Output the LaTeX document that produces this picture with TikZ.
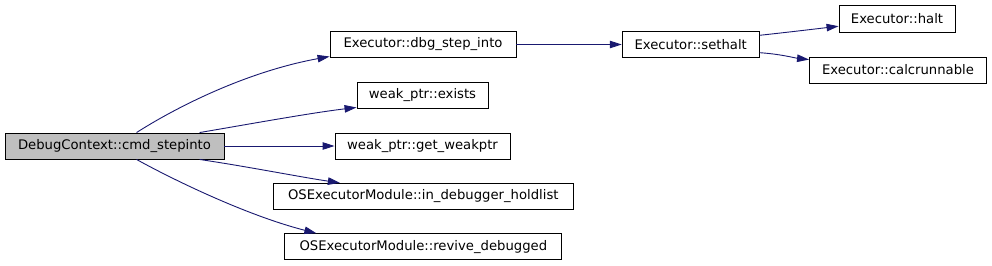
\documentclass[tikz,border=0pt]{standalone}
\usepackage{fontspec}
\setmainfont{DejaVu Sans}
\usetikzlibrary{calc,arrows.meta}
\definecolor{edgeblue}{HTML}{191970}
\definecolor{rootgrey}{HTML}{BFBFBF}
\begin{document}
\begin{tikzpicture}[x=1pt,y=-1pt,
  box/.style={draw=black,line width=0.9pt,inner sep=0pt,minimum height=26pt,
    font=\fontsize{13.2}{15}\selectfont,anchor=center},
  call/.style={draw=edgeblue,line width=0.9pt,
    -{Triangle[length=12pt,width=7.5pt,fill=edgeblue]}}]
\useasboundingbox (0,0) rectangle (992,265);
\node[box,fill=rootgrey,minimum width=219pt] (cmd) at (114.5,146) {DebugContext::cmd\_stepinto};
\node[box,minimum width=186pt,minimum height=25.5pt] (dbg) at (423,44.5) {Executor::dbg\_step\_into};
\node[box,minimum width=131pt] (exists) at (422.5,95) {weak\_ptr::exists};
\node[box,minimum width=175pt] (getweak) at (422.5,146) {weak\_ptr::get\_weakptr};
\node[box,minimum width=300pt] (hold) at (423.3,196.3) {OSExecutorModule::in\_debugger\_holdlist};
\node[box,minimum width=277pt] (rev) at (423.3,246.7) {OSExecutorModule::revive\_debugged};
\node[box,minimum width=137pt,minimum height=25.5pt] (sethalt) at (690.7,44.5) {Executor::sethalt};
\node[box,minimum width=116pt,minimum height=27pt] (halt) at (897,18.7) {Executor::halt};
\node[box,minimum width=177pt] (calc) at (898,70) {Executor::calcrunnable};

\draw[call] ($(cmd.north west)+(132,0)$) .. controls (175,108) and (245,72) .. ($(dbg.west)+(0,12)$);
\draw[call] ($(cmd.north west)+(195,0)$) .. controls (250,124) and (310,113) .. ($(exists.south west)+(0,-1)$);
\draw[call] (cmd.east) -- (getweak.west);
\draw[call] ($(cmd.south west)+(195,0)$) .. controls (250,167) and (300,177) .. ($(hold.north west)+(67,0)$);
\draw[call] ($(cmd.south west)+(132,0)$) .. controls (170,178) and (245,215) .. ($(rev.north west)+(32,0)$);
\draw[call] (dbg.east) -- (sethalt.west);
\draw[call] ($(sethalt.north east)+(0,4)$) .. controls (790,32) and (815,29) .. ($(halt.west)+(0,7.5)$);
\draw[call] ($(sethalt.south east)+(0,-5)$) .. controls (780,54) and (795,58) .. ($(calc.north west)+(0,3)$);
\end{tikzpicture}
\end{document}
